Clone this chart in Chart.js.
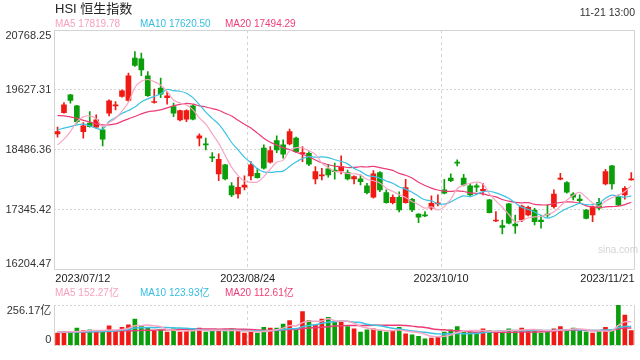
<!DOCTYPE html>
<html>
<head>
<meta charset="utf-8">
<script src="https://cdn.jsdelivr.net/npm/chart.js@4.4.0/dist/chart.umd.min.js"></script>
<style>
  html, body { margin: 0; padding: 0; background: #fff; }
  #wrap { position: relative; width: 640px; height: 360px; overflow: hidden;
          font-family: 'Liberation Sans', Arial, 'Noto Sans CJK SC', sans-serif; }
  #main { position: absolute; left: 0; top: 0; }
  #vol { position: absolute; left: 0; top: 290px; }
  .t { position: absolute; white-space: nowrap; }
  .lg { font-size: 10px; line-height: 12px; }
</style>
</head>
<body>
<div id="wrap">
  <canvas id="main" width="640" height="290"></canvas>
  <canvas id="vol" width="640" height="70"></canvas>

  <div class="t" style="left:55px;top:2px;font-size:13px;line-height:14px;color:#222">HSI 恒生指数</div>
  <div class="t" style="right:5px;top:6px;font-size:10.5px;line-height:12px;color:#333">11-21 13:00</div>
  <div class="t lg" style="left:55px;top:18px;color:#f7a0c0">MA5 17819.78</div>
  <div class="t lg" style="left:140px;top:18px;color:#35bde0">MA10 17620.50</div>
  <div class="t lg" style="left:225px;top:18px;color:#ee3d76">MA20 17494.29</div>
  <div class="t" style="left:598px;top:244px;font-size:10px;line-height:12px;color:#d4d4d4">sina.com</div>

  <div class="t lg" style="left:55px;top:287px;color:#f7a0c0">MA5 152.27亿</div>
  <div class="t lg" style="left:140px;top:287px;color:#35bde0">MA10 123.93亿</div>
  <div class="t lg" style="left:225px;top:287px;color:#ee3d76">MA20 112.61亿</div>
</div>

<script>
// 日K数据 (2023/07/12 - 2023/11/21)
const opens = [
  18787, 19193, 19532, 19322, 18831, 18991, 18915, 18864, 19183, 19322,
  19500, 19423, 20232, 20219, 19895, 19385, 19660, 19480, 19308, 19054,
  19068, 19322, 18705, 18596, 18348, 18023, 18195, 17794, 17641, 17770,
  17985, 18036, 18514, 18247, 18659, 18577, 18596, 18705, 18406, 18418,
  17928, 17985, 18119, 18099, 18081, 18048, 17928, 17928, 17794, 17578,
  18048, 17666, 17475, 17578, 17475, 17541, 17259, 17240, 17369, 17451,
  17718, 17942, 18239, 17942, 17794, 17794, 17705, 17527, 17126, 17036,
  17451, 17069, 17145, 17240, 17336, 17145, 17259, 17399, 17922, 17858,
  17641, 17546, 17336, 17240, 17483, 17833, 18177, 17590, 17623, 17909
];
const closes = [
  18831, 19341, 19423, 19022, 18940, 18927, 19054, 18686, 19418, 19341,
  19608, 19895, 20091, 20009, 19518, 19404, 19545, 19512, 19183, 19232,
  19232, 19068, 18749, 18577, 18329, 18304, 17928, 17623, 17770, 17813,
  18195, 17952, 18132, 18469, 18482, 18400, 18831, 18449, 18430, 18208,
  18067, 18005, 18005, 18067, 18163, 17928, 17972, 17876, 17666, 18023,
  17718, 17475, 17578, 17336, 17762, 17336, 17197, 17222, 17464, 17464,
  17655, 17895, 18228, 17813, 17623, 17770, 17731, 17285, 17145, 17005,
  17082, 17030, 17412, 17388, 17113, 17113, 17240, 17641, 17942, 17674,
  17578, 17514, 17177, 17399, 17369, 18067, 17833, 17431, 17750, 17922
];
const highs = [
  18915, 19385, 19541, 19332, 19003, 19213, 19150, 18915, 19436, 19404,
  19627, 19946, 20359, 20328, 19977, 19641, 19851, 19594, 19373, 19242,
  19246, 19341, 18787, 18705, 18430, 18406, 18205, 17858, 17960, 17985,
  18258, 18132, 18577, 18545, 18749, 18672, 18877, 18724, 18545, 18449,
  18163, 18132, 18208, 18228, 18367, 18099, 17985, 18005, 17846, 18087,
  18067, 17718, 17623, 17680, 17922, 17559, 17269, 17304, 17604, 17623,
  17922, 18023, 18291, 18018, 17846, 17833, 17846, 17541, 17304, 17145,
  17464, 17240, 17431, 17412, 17369, 17240, 17431, 17718, 18036, 17876,
  17666, 17623, 17349, 17412, 17559, 18113, 18186, 17623, 17781, 18048
];
const lows = [
  18724, 19183, 19373, 18991, 18705, 18915, 18896, 18558, 19131, 19246,
  19488, 19404, 20072, 19895, 19500, 19373, 19480, 19354, 19117, 19035,
  19022, 19054, 18558, 18482, 18258, 17895, 17909, 17590, 17559, 17718,
  17909, 17942, 18113, 18228, 18430, 18324, 18577, 18430, 18258, 18181,
  17833, 17909, 17960, 17922, 18023, 17909, 17833, 17813, 17641, 17559,
  17686, 17464, 17451, 17298, 17464, 17304, 17093, 17208, 17336, 17412,
  17641, 17876, 18177, 17794, 17604, 17686, 17623, 17279, 17113, 16878,
  17069, 16891, 17113, 17222, 17050, 16987, 17197, 17369, 17909, 17655,
  17527, 17464, 17164, 17113, 17336, 17813, 17731, 17418, 17541, 17904
];
// 成交量 (亿)
const volumes = [
  78, 89, 78, 110, 94, 99, 89, 84, 125, 89,
  115, 131, 167, 125, 110, 89, 99, 84, 105, 84,
  89, 105, 110, 84, 94, 89, 99, 105, 89, 78,
  84, 78, 115, 110, 110, 136, 157, 105, 214, 157,
  131, 167, 178, 152, 146, 120, 105, 84, 99, 105,
  94, 84, 94, 115, 73, 68, 58, 42, 47, 58,
  84, 99, 120, 89, 84, 78, 105, 94, 89, 89,
  105, 94, 110, 99, 99, 78, 89, 105, 120, 99,
  110, 89, 84, 78, 94, 115, 89, 256.17, 193, 94
];
// 窗口开始前的均线值
const ma5Head = [18577, 18686, 18831, 19022];
const ma10Head = [18864, 18896, 18927, 18959, 18972, 18940, 18896, 18877, 19022];
const ma20Head = [19137, 19131, 19112, 19083, 19045, 19016, 18978, 18959, 18959, 18978,
                  19026, 19074, 19118, 19169, 19207, 19226, 19245, 19284, 19322];
const vma5Head = [84, 85, 86, 88];
const vma10Head = [84, 84, 85, 85, 86, 87, 88, 89, 90];
const vma20Head = [82, 83, 83, 84, 85, 86, 87, 88, 89, 90, 92, 93, 94, 95, 96, 97, 98, 99, 100];

const priceTicks = [16204.47, 17345.42, 18486.36, 19627.31, 20768.25];
const volTicks = [0, 256.17];
const dateLabels = ['2023/07/12', '2023/08/24', '2023/10/10', '2023/11/21'];
const datePos = [-0.5, 29.5, 59.5, 89.5];

const FONT = "'Liberation Sans', Arial, 'Noto Sans CJK SC', sans-serif";
const RED = '#f01a14';
const GREEN = '#0b9e0b';
const C_MA5 = '#f7a6c4';
const C_MA10 = '#3cc2e4';
const C_MA20 = '#ec3c76';
const GRID = '#d4d4d4';

function movingAvg(values, n, head) {
  return values.map((v, i) => {
    if (i < n - 1) return head[i];
    let s = 0;
    for (let k = i - n + 1; k <= i; k++) s += values[k];
    return s / n;
  });
}

const idx = closes.map((_, i) => i);
const colors = closes.map((c, i) => c >= opens[i] ? RED : GREEN);
const pts = arr => idx.map(i => ({ x: i, y: arr[i] }));

function lineSet(data, color, width) {
  return { type: 'line', data: pts(data), borderColor: color, borderWidth: width,
           pointRadius: 0, tension: 0.4, order: 0 };
}

// x 轴: 两端实线, 中间虚线
const xScale = {
  type: 'linear', min: -0.5, max: 89.5, offset: false,
  grid: { offset: false, color: GRID, drawTicks: false },
  border: { display: false, dash: ctx => (ctx.index === 0 || ctx.index === datePos.length - 1) ? [] : [3, 3] },
  ticks: { display: false },
  afterBuildTicks: s => { s.ticks = datePos.map(v => ({ value: v })); },
  afterFit: s => { s.height = 0; }
};

const dateLabelPlugin = {
  id: 'dateLabels',
  afterDraw(chart) {
    const ctx = chart.ctx;
    const xs = chart.scales.x;
    ctx.save();
    ctx.font = '11px ' + FONT;
    ctx.fillStyle = '#222';
    ctx.textBaseline = 'middle';
    dateLabels.forEach((t, k) => {
      const px = xs.getPixelForValue(datePos[k]);
      ctx.textAlign = k === 0 ? 'left' : (k === dateLabels.length - 1 ? 'right' : 'center');
      ctx.fillText(t, px + (k === 0 ? 1 : 0), 278.5);
    });
    ctx.restore();
  }
};

// 主图
new Chart(document.getElementById('main'), {
  type: 'bar',
  data: {
    datasets: [
      lineSet(movingAvg(closes, 5, ma5Head), C_MA5, 1.2),
      lineSet(movingAvg(closes, 10, ma10Head), C_MA10, 1.2),
      lineSet(movingAvg(closes, 20, ma20Head), C_MA20, 1.2),
      { data: idx.map(i => ({ x: i, y: [opens[i], closes[i]] })), backgroundColor: colors,
        barThickness: 5, minBarLength: 1, grouped: false, order: 1 },
      { data: idx.map(i => ({ x: i, y: [lows[i], highs[i]] })), backgroundColor: colors,
        barThickness: 1, grouped: false, order: 2 }
    ]
  },
  options: {
    responsive: false,
    animation: false,
    layout: { padding: { left: 0, right: 5.5, top: 30, bottom: 20.7 } },
    plugins: { legend: { display: false }, tooltip: { enabled: false } },
    scales: {
      x: xScale,
      y: {
        min: priceTicks[0], max: priceTicks[priceTicks.length - 1],
        grid: { color: GRID, drawTicks: false },
        border: { display: false, dash: ctx => (ctx.index === 0 || ctx.index === priceTicks.length - 1) ? [] : [2, 2] },
        ticks: {
          padding: 3, color: '#333', font: { size: 11, family: FONT, lineHeight: 1.05 },
          callback: (v, i, ticks) => {
            const s = Number(v).toFixed(2);
            if (i === 0) return [s, ''];
            if (i === ticks.length - 1) return ['', s];
            return s;
          }
        },
        afterBuildTicks: s => { s.ticks = priceTicks.map(v => ({ value: v })); },
        afterFit: s => { s.width = 54.3; }
      }
    }
  },
  plugins: [dateLabelPlugin]
});

// 成交量
new Chart(document.getElementById('vol'), {
  type: 'bar',
  data: {
    datasets: [
      lineSet(movingAvg(volumes, 5, vma5Head), C_MA5, 1.5),
      lineSet(movingAvg(volumes, 10, vma10Head), C_MA10, 1.5),
      lineSet(movingAvg(volumes, 20, vma20Head), C_MA20, 1.5),
      { data: pts(volumes), backgroundColor: colors, barThickness: 4, grouped: false, order: 1 }
    ]
  },
  options: {
    responsive: false,
    animation: false,
    layout: { padding: { left: 0, right: 5.5, top: 15, bottom: 5.5 } },
    plugins: { legend: { display: false }, tooltip: { enabled: false } },
    scales: {
      x: xScale,
      y: {
        min: 0, max: volTicks[1],
        grid: { color: GRID, drawTicks: false },
        border: { display: false, dash: [2, 2] },
        ticks: {
          padding: 3, color: '#333', font: { size: 11, family: FONT, lineHeight: 1.05 },
          callback: (v, i) => i === 0 ? ['0', ''] : ['', Number(v).toFixed(2) + '亿']
        },
        afterBuildTicks: s => { s.ticks = volTicks.map(v => ({ value: v })); },
        afterFit: s => { s.width = 54.3; }
      }
    }
  }
});
</script>
</body>
</html>
